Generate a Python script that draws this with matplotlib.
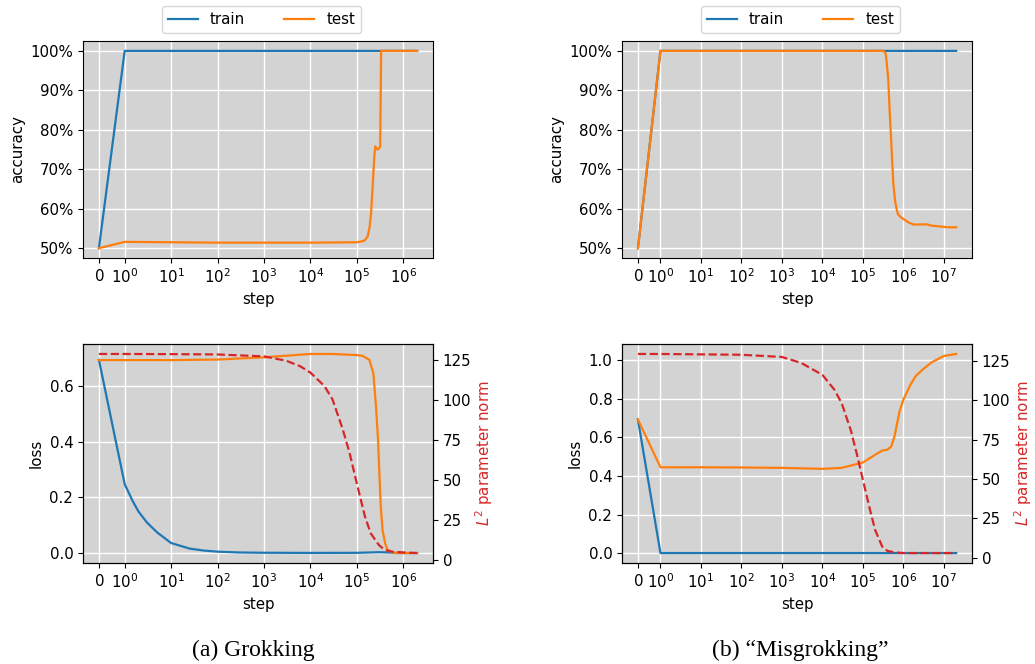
import matplotlib
matplotlib.use("Agg")
import matplotlib.pyplot as plt
from matplotlib.ticker import PercentFormatter, NullLocator

plt.rcParams['font.size'] = 10.8
plt.rcParams['lines.linewidth'] = 1.6

# ---- (a) grokking ----
grok_train_acc_steps = [0, 1, 2e6]
grok_train_acc = [0.50, 1.00, 1.00]

grok_test_acc_steps = [0, 1, 10, 100, 1e3, 1e4, 1e5, 1.24e5, 1.46e5, 1.72e5, 1.9e5,
                       2.04e5, 2.16e5, 2.28e5, 2.4e5, 2.52e5, 2.65e5, 2.8e5, 3.0e5,
                       3.2e5, 3.35e5, 3.5e5, 1e6, 2e6]
grok_test_acc = [0.500, 0.516, 0.515, 0.514, 0.514, 0.514, 0.515, 0.517, 0.519, 0.530, 0.555,
                 0.590, 0.640, 0.690, 0.735, 0.758, 0.752, 0.750, 0.752,
                 0.758, 1.000, 1.000, 1.000, 1.000]

grok_train_loss_steps = [0, 1, 1.5, 2, 3, 5, 10, 25, 50, 100, 300, 1e3, 1e4, 1e5,
                         3e5, 5e5, 7e5, 2e6]
grok_train_loss = [0.693, 0.247, 0.185, 0.148, 0.110, 0.074, 0.036, 0.016, 0.009, 0.005,
                   0.002, 0.001, 0.0005, 0.0008, 0.003, 0.002, 0.000, 0.000]

grok_test_loss_steps = [0, 1, 10, 100, 1e3, 1e4, 3e4, 1e5, 1.35e5, 1.87e5, 2.28e5, 2.6e5,
                        2.88e5, 3.07e5, 3.3e5, 3.6e5, 4.1e5, 4.6e5, 5.9e5, 8e5, 2e6]
grok_test_loss = [0.692, 0.692, 0.692, 0.694, 0.702, 0.714, 0.714, 0.710, 0.707, 0.693,
                  0.645, 0.525, 0.405, 0.286, 0.165, 0.082, 0.034, 0.012, 0.002, 0.0, 0.0]

grok_norm_steps = [0, 1, 10, 100, 1e3, 3e3, 6e3, 1e4, 2e4, 3e4, 5e4, 7e4, 1e5, 1.5e5,
                   2e5, 3e5, 4e5, 6e5, 1e6, 2e6]
grok_norm = [128.6, 128.6, 128.5, 128.3, 127.1, 124.4, 121.0, 117.0, 108.7, 100.3, 81.5,
             66.9, 48.0, 27.2, 16.7, 9.4, 6.3, 5.2, 4.8, 4.4]

# ---- (b) misgrokking ----
mis_train_acc_steps = [0, 1, 2e7]
mis_train_acc = [0.50, 1.00, 1.00]

mis_test_acc_steps = [0, 1, 10, 100, 1e3, 1e4, 1e5, 3.2e5, 3.6e5, 3.8e5, 4.2e5, 4.5e5,
                      5.1e5, 5.6e5, 6.2e5, 6.8e5, 7.4e5, 9e5, 1.3e6, 1.75e6, 2.5e6,
                      3.7e6, 5e6, 8e6, 1.2e7, 2e7]
mis_test_acc = [0.500, 1.000, 1.000, 1.000, 1.000, 1.000, 1.000, 1.000, 0.995, 0.977, 0.930,
                0.860, 0.750, 0.665, 0.620, 0.598, 0.585, 0.577, 0.566, 0.560, 0.560,
                0.5605, 0.557, 0.555, 0.553, 0.553]

mis_train_loss_steps = [0, 1, 2e7]
mis_train_loss = [0.693, 0.0, 0.0]

mis_test_loss_steps = [0, 1, 10, 100, 1e3, 1e4, 3e4, 1e5, 2e5, 3e5, 4e5, 5e5, 6e5, 7e5,
                       8e5, 1e6, 1.5e6, 2e6, 3e6, 5e6, 1e7, 2e7]
mis_test_loss = [0.693, 0.445, 0.445, 0.444, 0.442, 0.437, 0.442, 0.470, 0.510, 0.532,
                 0.536, 0.553, 0.605, 0.675, 0.735, 0.797, 0.875, 0.918, 0.953, 0.990,
                 1.023, 1.033]

mis_norm_steps = [0, 1, 100, 1e3, 3e3, 1e4, 2e4, 3e4, 5e4, 7e4, 1e5, 1.5e5, 2e5, 3e5,
                  4e5, 6e5, 1e6, 2e7]
mis_norm = [129.3, 129.3, 128.8, 127.4, 123.6, 116.0, 106.4, 97.9, 81.0, 66.2, 49.3, 30.2,
            17.6, 7.0, 4.4, 3.4, 3.0, 3.0]

grok_ticks = [0, 1, 10, 100, 1e3, 1e4, 1e5, 1e6]
mis_ticks = [0, 1, 10, 100, 1e3, 1e4, 1e5, 1e6, 1e7]

BLUE, ORANGE, RED = 'tab:blue', 'tab:orange', 'tab:red'

fig = plt.figure(figsize=(10.35, 6.64), dpi=100)
ax_a1 = fig.add_axes([0.0802, 0.6114, 0.3382, 0.3268])
ax_b1 = fig.add_axes([0.6010, 0.6114, 0.3382, 0.3268])
ax_a2 = fig.add_axes([0.0802, 0.1521, 0.3382, 0.3298])
ax_b2 = fig.add_axes([0.6010, 0.1521, 0.3382, 0.3298])


def style(ax, ticks):
    ax.set_facecolor('lightgray')
    ax.set_xscale('symlog', linthresh=1, linscale=0.5)
    ax.set_xticks(ticks)
    ax.xaxis.set_minor_locator(NullLocator())
    ax.grid(True, color='white', linewidth=1.0)
    ax.set_xlabel('step')


# accuracy panels
for ax, s_tr, tr, s_te, te, ticks in [
        (ax_a1, grok_train_acc_steps, grok_train_acc, grok_test_acc_steps, grok_test_acc, grok_ticks),
        (ax_b1, mis_train_acc_steps, mis_train_acc, mis_test_acc_steps, mis_test_acc, mis_ticks)]:
    ax.plot(s_tr, tr, color=BLUE, label='train')
    ax.plot(s_te, te, color=ORANGE, label='test')
    style(ax, ticks)
    ax.set_yticks([0.5, 0.6, 0.7, 0.8, 0.9, 1.0])
    ax.yaxis.set_major_formatter(PercentFormatter(xmax=1, decimals=0))
    ax.set_ylabel('accuracy')
    ax.legend(loc='lower center', bbox_to_anchor=(0.51, 1.035), ncol=2,
              borderaxespad=0, columnspacing=2.6)

# loss panels
for ax, s_tr, tr, s_te, te, s_n, nrm, ticks in [
        (ax_a2, grok_train_loss_steps, grok_train_loss, grok_test_loss_steps, grok_test_loss,
         grok_norm_steps, grok_norm, grok_ticks),
        (ax_b2, mis_train_loss_steps, mis_train_loss, mis_test_loss_steps, mis_test_loss,
         mis_norm_steps, mis_norm, mis_ticks)]:
    ax.plot(s_tr, tr, color=BLUE)
    ax.plot(s_te, te, color=ORANGE)
    style(ax, ticks)
    ax.set_ylabel('loss')
    tw = ax.twinx()
    tw.plot(s_n, nrm, color=RED, linestyle='--')
    tw.set_yticks([0, 25, 50, 75, 100, 125])
    tw.set_ylabel('$L^2$ parameter norm', color=RED, labelpad=1.5)

ax_a2.set_yticks([0.0, 0.2, 0.4, 0.6])
ax_b2.set_yticks([0.0, 0.2, 0.4, 0.6, 0.8, 1.0])

fig.text(0.245, 0.021, '(a) Grokking', ha='center', va='center',
         family='Liberation Serif', fontsize=17)
fig.text(0.773, 0.021, '(b) \u201cMisgrokking\u201d', ha='center', va='center',
         family='Liberation Serif', fontsize=17)

fig.savefig('out.png', dpi=100)
